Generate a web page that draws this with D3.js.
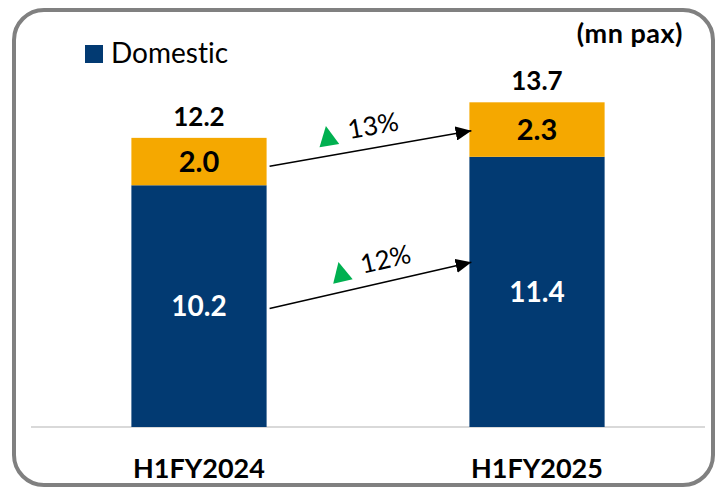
<!DOCTYPE html>
<html>
<head>
<meta charset="utf-8">
<script src="https://cdn.jsdelivr.net/npm/d3@7"></script>
<style>
  html, body { margin: 0; padding: 0; background: #fff; }
  svg { display: block; font-family: Lato, "Open Sans", sans-serif; font-variant-ligatures: none; }
</style>
</head>
<body>
<svg id="chart" width="715" height="487"></svg>
<script>
/* ============================
   DATA
============================ */
const periods = ["H1FY2024", "H1FY2025"];
const domestic = [10.2, 11.4];
const international = [2.0, 2.3];
const totals = [12.2, 13.7];
// growth arrows: start / end value (mn pax units) + label
const growthLabels = ["13%", "12%"];
const growthFrom = [11.0, 5.0];
const growthTo = [12.5, 6.95];

const legendLabel = "Domestic";
const unitLabel = "(mn pax)";

/* ============================
   STYLE
============================ */
const BLUE = "#023A72";
const ORANGE = "#F5A800";
const GREEN = "#00B050";
const labelShift = [0, 14]; // nudge of growth label along the arrow

const svg = d3.select("#chart");

// rounded frame
svg.append("rect")
  .attr("x", 14).attr("y", 10)
  .attr("width", 699).attr("height", 475)
  .attr("rx", 30).attr("ry", 30)
  .attr("fill", "none")
  .attr("stroke", "#808080")
  .attr("stroke-width", 4);

const x = d3.scaleBand()
  .domain(periods)
  .range([31, 705])
  .paddingInner(0.6)
  .paddingOuter(0.297);

const y = d3.scaleLinear()
  .domain([0, 14])
  .range([427, 427 - 14 * 23.7]);

const rows = periods.map((p, i) => ({
  p, dom: domestic[i], intl: international[i], total: totals[i]
}));

// baseline
svg.append("line")
  .attr("x1", 31).attr("x2", 705)
  .attr("y1", y(0)).attr("y2", y(0))
  .attr("stroke", "#D9D9D9")
  .attr("stroke-width", 2);

// domestic bars
svg.selectAll("rect.dom")
  .data(rows)
  .enter().append("rect")
  .attr("class", "dom")
  .attr("x", d => x(d.p))
  .attr("width", x.bandwidth())
  .attr("y", d => y(d.dom))
  .attr("height", d => y(0) - y(d.dom))
  .attr("fill", BLUE);

// international bars
svg.selectAll("rect.intl")
  .data(rows)
  .enter().append("rect")
  .attr("class", "intl")
  .attr("x", d => x(d.p))
  .attr("width", x.bandwidth())
  .attr("y", d => y(d.dom + d.intl))
  .attr("height", d => y(d.dom) - y(d.dom + d.intl))
  .attr("fill", ORANGE);

const cx = d => x(d.p) + x.bandwidth() / 2;

// labels inside bars
svg.selectAll("text.domv")
  .data(rows)
  .enter().append("text")
  .attr("x", cx)
  .attr("y", d => (y(0) + y(d.dom)) / 2)
  .attr("dy", "0.36em")
  .attr("text-anchor", "middle")
  .attr("font-weight", 700)
  .attr("font-size", 28)
  .attr("fill", "#fff")
  .text(d => d.dom.toFixed(1));

svg.selectAll("text.intlv")
  .data(rows)
  .enter().append("text")
  .attr("x", cx)
  .attr("y", d => (y(d.dom) + y(d.dom + d.intl)) / 2)
  .attr("dy", "0.36em")
  .attr("text-anchor", "middle")
  .attr("font-weight", 700)
  .attr("font-size", 29)
  .attr("fill", "#000")
  .text(d => d.intl.toFixed(1));

// totals
svg.selectAll("text.tot")
  .data(rows)
  .enter().append("text")
  .attr("x", cx)
  .attr("y", d => y(d.total) - 12)
  .attr("text-anchor", "middle")
  .attr("font-weight", 700)
  .attr("font-size", 26)
  .attr("fill", "#000")
  .text(d => d.total.toFixed(1));

// category labels
svg.selectAll("text.cat")
  .data(rows)
  .enter().append("text")
  .attr("x", cx)
  .attr("y", 478)
  .attr("text-anchor", "middle")
  .attr("font-weight", 700)
  .attr("font-size", 27)
  .attr("fill", "#000")
  .text(d => d.p);

// growth arrows
svg.append("defs").append("marker")
  .attr("id", "arrow")
  .attr("viewBox", "0 0 10 10")
  .attr("refX", 10).attr("refY", 5)
  .attr("markerWidth", 10.5).attr("markerHeight", 9.5)
  .attr("markerUnits", "strokeWidth")
  .attr("orient", "auto")
  .attr("preserveAspectRatio", "none")
  .append("path")
  .attr("d", "M0,0 L10,5 L0,10 Z")
  .attr("fill", "#000");

const x0 = x(periods[0]) + x.bandwidth() + 3;
const x1 = x(periods[1]) + 2;

growthLabels.forEach((lab, i) => {
  const ya = y(growthFrom[i]);
  const yb = y(growthTo[i]);
  svg.append("line")
    .attr("x1", x0).attr("y1", ya)
    .attr("x2", x1).attr("y2", yb)
    .attr("stroke", "#000")
    .attr("stroke-width", 1.5)
    .attr("marker-end", "url(#arrow)");

  const ang = Math.atan2(yb - ya, x1 - x0) * 180 / Math.PI;
  const mx = (x0 + x1) / 2;
  const my = (ya + yb) / 2;
  const g = svg.append("g")
    .attr("transform", `translate(${mx},${my}) rotate(${ang}) translate(${labelShift[i]},0)`);
  // green up triangle
  g.append("path")
    .attr("d", "M-50,-10 L-30,-10 L-40,-30 Z")
    .attr("fill", GREEN);
  g.append("text")
    .attr("x", -19)
    .attr("y", -13)
    .attr("font-size", 26)
    .attr("fill", "#000")
    .text(lab);
});

// legend
svg.append("rect")
  .attr("x", 85).attr("y", 45)
  .attr("width", 18).attr("height", 18)
  .attr("fill", BLUE);
svg.append("text")
  .attr("x", 111).attr("y", 63)
  .attr("font-size", 28)
  .attr("fill", "#000")
  .text(legendLabel);

// unit label
svg.append("text")
  .attr("x", 683).attr("y", 43)
  .attr("text-anchor", "end")
  .attr("font-weight", 700)
  .attr("font-size", 27)
  .attr("letter-spacing", 0.5)
  .attr("fill", "#000")
  .text(unitLabel);
</script>
</body>
</html>
